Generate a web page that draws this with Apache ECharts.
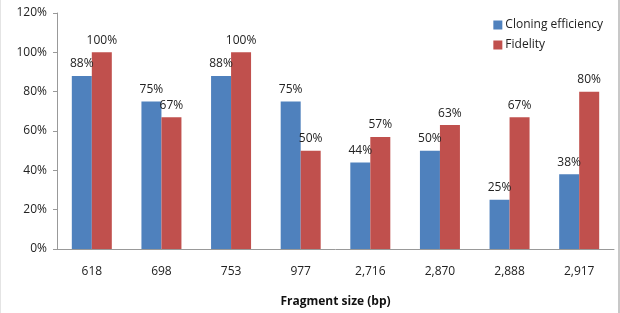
<!DOCTYPE html>
<html>
<head>
<meta charset="utf-8">
<script src="https://cdn.jsdelivr.net/npm/echarts@6/dist/echarts.min.js"></script>
<style>
  html, body { margin: 0; padding: 0; background: #fff; }
  #chart { width: 620px; height: 313px; box-sizing: border-box; border-left: 1px solid #e4e4e4; border-right: 2px solid #c8c8c8; }
</style>
</head>
<body>
<div id="chart"></div>
<script>
var fragments = ['618', '698', '753', '977', '2,716', '2,870', '2,888', '2,917'];
var cloning = [88, 75, 88, 75, 44, 50, 25, 38];
var fidelity = [100, 67, 100, 50, 57, 63, 67, 80];
var seriesNames = ['Cloning efficiency', 'Fidelity'];

var myChart = echarts.init(document.getElementById('chart'));

var labelStyle = {
    show: true,
    position: 'top',
    formatter: '{c}%',
    color: '#222',
    fontSize: 12,
    fontFamily: 'Open Sans',
    distance: 6
};

option = {
    animation: false,
    textStyle: { fontFamily: 'Open Sans' },
    grid: { left: 56, right: 4, top: 13, bottom: 62 },
    legend: {
        orient: 'vertical',
        right: 10,
        top: 14,
        itemWidth: 9,
        itemHeight: 9,
        itemGap: 8,
        icon: 'rect',
        textStyle: { fontSize: 12, color: '#222', padding: [0, 0, 0, -2] },
        data: seriesNames
    },
    xAxis: {
        type: 'category',
        data: fragments,
        name: 'Fragment size (bp)',
        nameLocation: 'middle',
        nameGap: 47,
        nameTextStyle: { fontWeight: 'bold', fontSize: 12, color: '#111' },
        axisLine: { lineStyle: { color: '#999' } },
        axisTick: { length: 5, lineStyle: { color: '#999' } },
        axisLabel: { color: '#222', fontSize: 12, margin: 17 }
    },
    yAxis: {
        type: 'value',
        min: 0,
        max: 120,
        interval: 20,
        axisLine: { show: true, lineStyle: { color: '#999' } },
        axisTick: { show: true, length: 4, lineStyle: { color: '#999' } },
        splitLine: { show: false },
        axisLabel: { formatter: '{value}%', color: '#222', fontSize: 12, margin: 10 }
    },
    series: [
        {
            name: seriesNames[0],
            type: 'bar',
            data: cloning,
            barWidth: 20,
            barGap: '0%',
            itemStyle: { color: '#4f81bd' },
            label: labelStyle
        },
        {
            name: seriesNames[1],
            type: 'bar',
            data: fidelity,
            barWidth: 20,
            itemStyle: { color: '#c0504d' },
            label: labelStyle
        }
    ]
};

myChart.setOption(option);
</script>
</body>
</html>
